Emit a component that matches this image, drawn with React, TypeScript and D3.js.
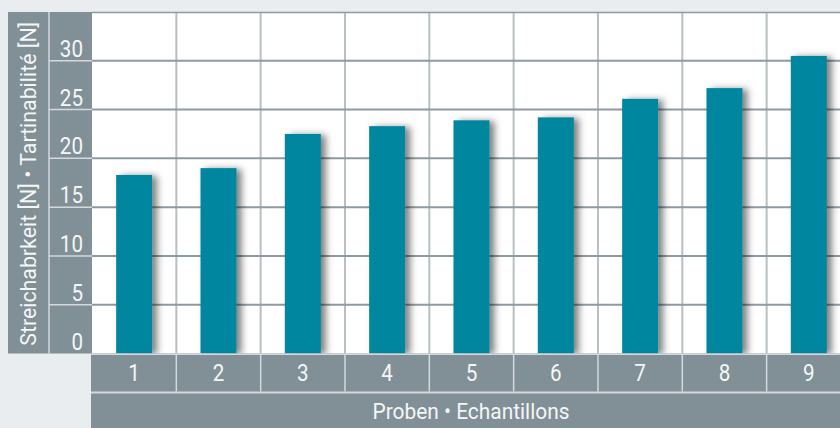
import React from 'react';
import * as d3 from 'd3';

const probes = ['1', '2', '3', '4', '5', '6', '7', '8', '9'];
const values = [18.3, 19.0, 22.5, 23.3, 23.9, 24.2, 26.1, 27.2, 30.5];
const yTicks = [0, 5, 10, 15, 20, 25, 30];

const yTitle = 'Streichabrkeit [N] • Tartinabilité [N]';
const xTitle = 'Proben • Echantillons';

const W = 840;
const H = 428;
const cfg = {
    bg: '#e9edf0',
    panel: '#818f96',
    light: '#d3d9dc',
    gridH: '#8d9aa1',
    gridV: '#b7bfc3',
    bar: '#00869e',
    text: '#f4f6f7',
    font: "'Liberation Sans Narrow', 'Arial Narrow', Roboto, sans-serif",
    squeeze: 0.86
};

// frame edges
const left = 8, top = 12, titleRight = 49, plotLeft = 92, plotBottom = 353.5;
const tickBandBottom = 391.5;

export default function App() {
    const y = d3.scaleLinear().domain([0, 35]).range([plotBottom, top]);
    const x = d3.scaleBand().domain(probes).range([plotLeft, plotLeft + 9 * 84.33]).padding(0);
    const bw = 36;

    return (
        <div style={{ position: 'fixed', left: 0, top: 0 }}>
            <svg width={W} height={H} style={{ display: 'block' }}>
                <defs>
                    <filter id="shadow" x="-50%" y="-20%" width="200%" height="140%">
                        <feDropShadow dx="5" dy="1" stdDeviation="3.5" floodColor="#000" floodOpacity="0.5" />
                    </filter>
                </defs>
                <rect width={W} height={H} fill={cfg.bg} />

                {/* left panel: title column + tick column */}
                <rect x={left} y={top} width={plotLeft - left} height={plotBottom - top} fill={cfg.panel} />
                <line x1={titleRight} x2={titleRight} y1={top} y2={plotBottom} stroke={cfg.light} strokeWidth={1.5} />
                {yTicks.filter(t => t > 0).map(t => (
                    <line key={t} x1={titleRight} x2={plotLeft} y1={y(t)} y2={y(t)} stroke={cfg.light} strokeWidth={1.5} />
                ))}
                {yTicks.map(t => (
                    <text key={t} transform={`translate(83,${y(t) - 4}) scale(${cfg.squeeze},1)`} textAnchor="end"
                          fill={cfg.text} fontFamily={cfg.font} fontSize={24}>{t}</text>
                ))}
                <text transform={`translate(36,${(top + plotBottom) / 2 + 1}) rotate(-90)`} textAnchor="middle"
                      fill={cfg.text} fontFamily={cfg.font} fontSize={22}
                      textLength={324} lengthAdjust="spacingAndGlyphs">{yTitle}</text>

                {/* plot area */}
                <rect x={plotLeft} y={top} width={W - plotLeft} height={plotBottom - top} fill="#fff" />
                {probes.slice(1).map(p => (
                    <line key={p} x1={x(p)} x2={x(p)} y1={top} y2={plotBottom} stroke={cfg.gridV} strokeWidth={2} />
                ))}
                {yTicks.filter(t => t > 0).map(t => (
                    <line key={t} x1={plotLeft} x2={W} y1={y(t)} y2={y(t)} stroke={cfg.gridH} strokeWidth={2} />
                ))}
                <line x1={plotLeft} x2={W} y1={top + 0.5} y2={top + 0.5} stroke={cfg.gridH} strokeWidth={1.5} />

                {/* bars */}
                <g filter="url(#shadow)">
                    {values.map((v, i) => (
                        <rect key={i} x={x(probes[i])! + (x.bandwidth() - bw) / 2} y={y(v)}
                              width={bw} height={plotBottom - y(v)} fill={cfg.bar} />
                    ))}
                </g>

                {/* bottom bands */}
                <rect x={plotLeft - 1} y={plotBottom} width={W} height={H - plotBottom} fill={cfg.panel} />
                <line x1={plotLeft - 1} x2={W} y1={plotBottom + 0.75} y2={plotBottom + 0.75} stroke={cfg.light} strokeWidth={1.5} />
                <line x1={plotLeft - 1} x2={W} y1={tickBandBottom + 1} y2={tickBandBottom + 1} stroke={cfg.light} strokeWidth={2} />
                {probes.slice(1).map(p => (
                    <line key={p} x1={x(p)} x2={x(p)} y1={plotBottom} y2={tickBandBottom} stroke={cfg.light} strokeWidth={1.5} />
                ))}
                {probes.map(p => (
                    <text key={p} transform={`translate(${x(p)! + x.bandwidth() / 2},381) scale(${cfg.squeeze},1)`}
                          textAnchor="middle" fill={cfg.text} fontFamily={cfg.font} fontSize={24}>{p}</text>
                ))}
                <text x={471} y={419} textAnchor="middle" fill={cfg.text} fontFamily={cfg.font} fontSize={22}
                      textLength={197} lengthAdjust="spacingAndGlyphs">{xTitle}</text>
            </svg>
        </div>
    );
}
